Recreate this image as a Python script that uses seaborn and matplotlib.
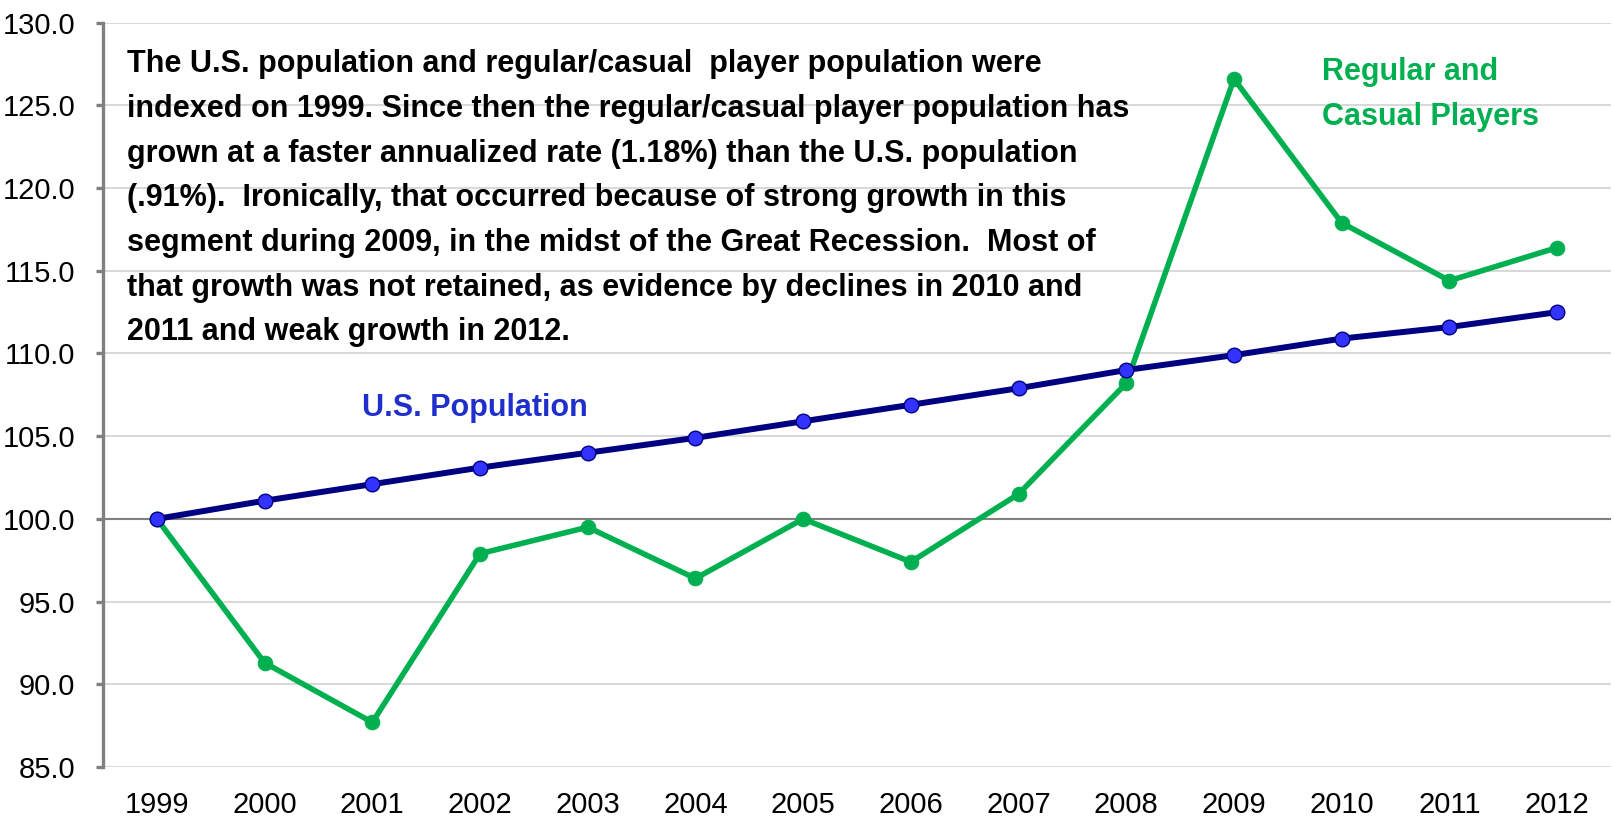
import pandas as pd
import seaborn as sns
import matplotlib.pyplot as plt

# indexed populations, 1999 = 100
years = [1999, 2000, 2001, 2002, 2003, 2004, 2005, 2006, 2007, 2008, 2009, 2010, 2011, 2012]
us_pop = [100.0, 101.1, 102.1, 103.1, 104.0, 104.9, 105.9, 106.9, 107.9, 109.0, 109.9, 110.9, 111.6, 112.5]
players = [100.0, 91.3, 87.7, 97.9, 99.5, 96.4, 100.0, 97.4, 101.5, 108.2, 126.6, 117.9, 114.4, 116.4]

note = ("The U.S. population and regular/casual  player population were\n"
        "indexed on 1999. Since then the regular/casual player population has\n"
        "grown at a faster annualized rate (1.18%) than the U.S. population\n"
        "(.91%).  Ironically, that occurred because of strong growth in this\n"
        "segment during 2009, in the midst of the Great Recession.  Most of\n"
        "that growth was not retained, as evidence by declines in 2010 and\n"
        "2011 and weak growth in 2012.")

df = pd.DataFrame({'year': years, 'us': us_pop, 'players': players})

sns.set_style('white')
plt.rcParams['font.family'] = ['Liberation Sans', 'DejaVu Sans']
plt.rcParams['text.color'] = 'black'
plt.rcParams['xtick.color'] = 'black'
plt.rcParams['ytick.color'] = 'black'

fig = plt.figure(figsize=(16.15, 8.22), dpi=100)
ax = fig.add_axes([0.0638, 0.0669, 0.9337, 0.9055])

navy = '#000080'
green = '#00B050'

for v in range(85, 131, 5):
    ax.axhline(v, color='#D9D9D9', lw=1.5, zorder=0)
ax.axhline(100, color='#808080', lw=1.5, zorder=1)

sns.lineplot(data=df, x='year', y='players', ax=ax, color=green, lw=4,
             marker='o', markersize=10.5, markerfacecolor=green, markeredgecolor=green, zorder=3)
sns.lineplot(data=df, x='year', y='us', ax=ax, color=navy, lw=4.3,
             marker='o', markersize=10.5, markerfacecolor='#3333FF', markeredgecolor=navy,
             markeredgewidth=1, zorder=4)

ax.set_xlim(1998.5, 2012.5)
ax.set_ylim(85, 130)
ax.set_xticks(years)
ax.set_yticks(range(85, 131, 5))
ax.set_yticklabels([f'{v:.1f}' for v in range(85, 131, 5)])
ax.set_xlabel('')
ax.set_ylabel('')

for s in ['top', 'right', 'bottom']:
    ax.spines[s].set_visible(False)
ax.spines['left'].set_color('#808080')
ax.spines['left'].set_linewidth(2.4)
ax.tick_params(axis='y', length=5, width=2.4, color='#808080', labelcolor='black',
               pad=15, labelsize=21, left=True)
ax.tick_params(axis='x', length=0, pad=17, labelsize=21, labelcolor='black')

ax.text(1998.72, 128.4, note, fontsize=22, fontweight='bold', va='top', ha='left',
        linespacing=1.64, color='black')
ax.text(2000.9, 106.7, 'U.S. Population', fontsize=22, fontweight='bold', color='#1F2FCC',
        va='center', ha='left')
ax.text(2009.82, 127.0, 'Regular and', fontsize=22, fontweight='bold', color=green,
        va='center', ha='left')
ax.text(2009.82, 124.3, 'Casual Players', fontsize=22, fontweight='bold', color=green,
        va='center', ha='left')

fig.savefig('out.png', dpi=100)
